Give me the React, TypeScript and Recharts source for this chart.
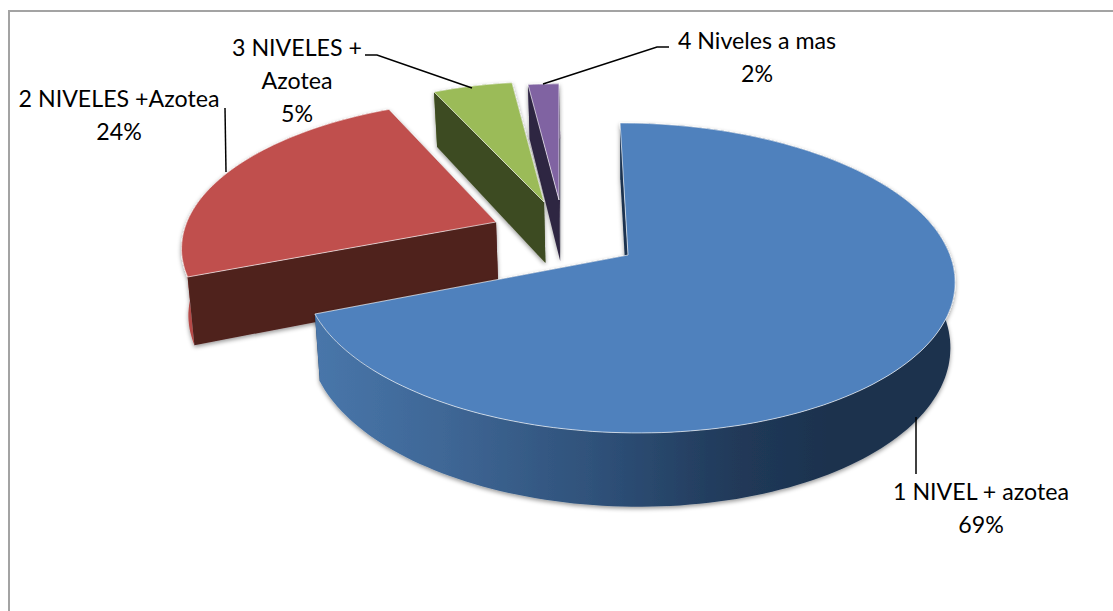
import React from 'react';
import { PieChart, Pie } from 'recharts';

// reversed order (counter-clockwise from the top) so the big slice paints last
const categories = ['4 Niveles a mas', '3 NIVELES +|Azotea', '2 NIVELES +Azotea', '1 NIVEL + azotea'];
const percents = [2, 5, 24, 69];

const topColors = ['#8064a2', '#9bbb59', '#c0504d', '#4f81bd'];
const cutColors = ['#2f2543', '#3d4b20', '#4f201d', '#1b324f'];
const wallFills = ['#4f3e66', '#6a8039', '#b54a47', 'url(#blueWall)'];

// how far each slice is pulled out of the pie, and its perspective distortion
const explodeX = [-69, -84, -132, 0];
const explodeY = [-55, -53, -33, 0];
const shrink = [0.88, 0.91, 0.96, 1];
const shrinkY = [1, 1, 0.97, 1];
const shear = [0, 0, -0.08, 0.06];
const extraDepth = [0, 0, 3, 0];

const labelLines = [
    ['4 Niveles a mas', '2%'],
    ['3 NIVELES +', 'Azotea', '5%'],
    ['2 NIVELES +Azotea', '24%'],
    ['1 NIVEL + azotea', '69%'],
];
const labelCenterX = [757, 297, 119, 981];
const labelFirstBaseline = [49, 56, 107, 500];
const leaders = [
    '669,47 657,47 543,84',
    '365,55 377,55 472,88',
    '225,108 226,172',
    '916,417 916,474',
];

const data = categories.map((name, i) => ({ name, value: percents[i], idx: i }));

const RAD = Math.PI / 180;
const TILT = 0.4708; // vertical squash
const PERSP = 0.148;

const SliceShape = (props: any) => {
    const { cx, cy, outerRadius, startAngle, endAngle } = props;
    const i = props.idx ?? props.payload?.idx ?? 0;
    const ox = cx + explodeX[i];
    const oy = cy + explodeY[i];
    const r = outerRadius * shrink[i];

    const project = (deg: number): [number, number] => {
        const u = Math.cos(deg * RAD);
        const v = -Math.sin(deg * RAD);
        const s = 1 / (1 - PERSP * v);
        const dy = r * shrinkY[i] * TILT * v * s;
        return [ox + r * u * s + shear[i] * dy, oy + dy];
    };
    // extrude a top point down, bottom of the pie is closer so depth grows with y
    const down = ([x, y]: [number, number]): [number, number] => [
        x + (640 - x) * 0.015,
        y + 50 + 0.055 * y + extraDepth[i],
    ];

    const lo = Math.min(startAngle, endAngle);
    const hi = Math.max(startAngle, endAngle);
    const arc: [number, number][] = [];
    const steps = Math.max(6, Math.ceil((hi - lo) / 1.5));
    for (let k = 0; k <= steps; k++) arc.push(project(lo + ((hi - lo) * k) / steps));

    const toPath = (pts: [number, number][]) =>
        'M' + pts.map((p) => `${p[0].toFixed(1)},${p[1].toFixed(1)}`).join('L') + 'Z';

    const apex: [number, number] = [ox, oy];
    const first = arc[0];
    const last = arc[arc.length - 1];
    const wall = [...arc, ...arc.map(down).reverse()];

    return (
        <g filter="url(#softShadow)">
            <path d={toPath([apex, first, down(first), down(apex)])} fill={cutColors[i]} />
            <path d={toPath(wall)} fill={wallFills[i]} />
            <path d={toPath([apex, last, down(last), down(apex)])} fill={cutColors[i]} />
            <path
                d={toPath([apex, ...arc])}
                fill={topColors[i]}
                stroke="#ffffff"
                strokeOpacity={0.65}
                strokeWidth={1}
                strokeLinejoin="round"
            />
        </g>
    );
};

const renderLabel = (props: any) => {
    const i = props.idx ?? props.payload?.idx ?? props.index;
    return (
        <g key={i}>
            <polyline points={leaders[i]} fill="none" stroke="#000000" strokeWidth={1.5} />
            <text
                x={labelCenterX[i]}
                y={labelFirstBaseline[i]}
                textAnchor="middle"
                fontFamily="Lato, sans-serif"
                fontSize={23.2}
                fill="#000000"
            >
                {labelLines[i].map((line, n) => (
                    <tspan key={n} x={labelCenterX[i]} dy={n === 0 ? 0 : 33}>
                        {line}
                    </tspan>
                ))}
            </text>
        </g>
    );
};

export default function App() {
    return (
        <div
            style={{
                position: 'absolute',
                left: 0,
                top: 0,
                width: 1113,
                height: 611,
                overflow: 'hidden',
                background: '#ffffff',
            }}
        >
            <div
                style={{
                    position: 'absolute',
                    left: 8,
                    top: 10,
                    width: 1200,
                    height: 800,
                    border: '2px solid #a3a3a3',
                }}
            />
            <PieChart width={1113} height={611} margin={{ top: 0, right: 0, bottom: 0, left: 0 }}>
                <defs>
                    <linearGradient id="blueWall" x1="0" y1="0" x2="1" y2="0">
                        <stop offset="0" stopColor="#4876aa" />
                        <stop offset="0.2" stopColor="#3f6796" />
                        <stop offset="0.45" stopColor="#2e5078" />
                        <stop offset="0.65" stopColor="#213a5a" />
                        <stop offset="0.8" stopColor="#1c324e" />
                        <stop offset="1" stopColor="#1c324e" />
                    </linearGradient>
                    <filter id="softShadow" x="-10%" y="-10%" width="120%" height="120%">
                        <feDropShadow dx="0" dy="2" stdDeviation="2" floodColor="#000000" floodOpacity="0.4" />
                    </filter>
                </defs>
                <Pie
                    data={data}
                    dataKey="value"
                    nameKey="name"
                    cx={628}
                    cy={255}
                    outerRadius={322}
                    startAngle={90}
                    endAngle={450}
                    stroke="none"
                    shape={SliceShape}
                    label={renderLabel}
                    labelLine={false}
                    isAnimationActive={false}
                />
            </PieChart>
        </div>
    );
}
